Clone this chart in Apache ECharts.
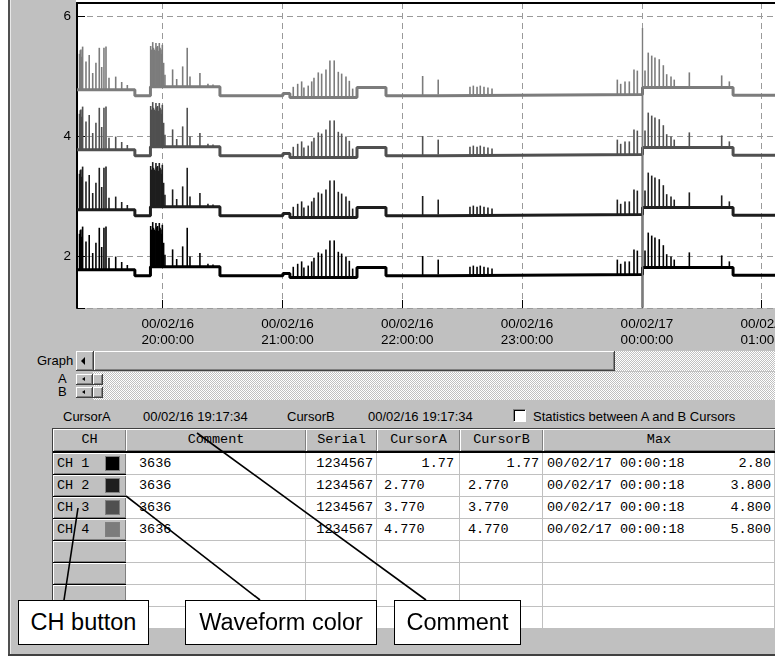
<!DOCTYPE html>
<html>
<head>
<meta charset="UTF-8">
<title>Waveform</title>
<style>
body{margin:0;width:775px;height:661px;overflow:hidden;background:#fff;position:relative;font-family:"Liberation Sans",Arial,sans-serif;font-size:13px;color:#000}
.abs{position:absolute}
.raised{background:#c0c0c0;box-sizing:border-box;box-shadow:inset -1px -1px #404040,inset 1px 1px #fff,inset -2px -2px #808080}
.dither{background-image:repeating-conic-gradient(#c0c0c0 0% 25%,#fff 0% 50%);background-size:2px 2px}
.lbl{position:absolute;line-height:16px;white-space:nowrap}
.mono{font-family:"Liberation Mono","Courier New",monospace;font-size:13.5px}
.hd{position:absolute;box-sizing:border-box;background:#c0c0c0;box-shadow:inset 1px 1px #fff,inset -1px -1px #808080;text-align:center;line-height:22px;white-space:nowrap}
.td{position:absolute;box-sizing:border-box;background:#fff;border-right:1px solid #c0c0c0;border-bottom:1px solid #c0c0c0;line-height:21px;white-space:nowrap;overflow:hidden}
.ch{position:absolute;box-sizing:border-box;background:#c0c0c0;box-shadow:inset 1px 1px #fff,inset -1px -1px #808080;border-bottom:1px solid #000;line-height:21px;white-space:nowrap}
.tri{position:absolute;width:0;height:0;border-style:solid;border-color:transparent #000 transparent transparent}
.callout{position:absolute;box-sizing:border-box;background:#fff;border:1px solid #000;font-family:Arial,"Liberation Sans",sans-serif;font-size:23.5px;line-height:43px;text-align:center;white-space:nowrap}
</style>
</head>
<body>
<!-- window frame and grey panel -->
<div class="abs" style="left:8px;top:0;width:2px;height:656px;background:#505050"></div>
<div class="abs" style="left:10px;top:0;width:1px;height:654px;background:#e8e8e8"></div>
<div class="abs" style="left:11px;top:0;width:764px;height:654px;background:#c0c0c0"></div>
<div class="abs" style="left:8px;top:654px;width:767px;height:2px;background:#404040"></div>
<div class="abs" style="left:76px;top:0;width:699px;height:3px;background:#fff"></div>

<div id="main" class="abs" style="left:0;top:0;width:775px;height:350px"></div>

<!-- scroll bars -->
<div class="lbl" style="left:37px;top:353px">Graph</div>
<div class="abs raised" style="left:76px;top:351px;width:18px;height:20px"></div>
<div class="tri" style="left:81px;top:357px;border-width:4px 4px 4px 0"></div>
<div class="abs raised" style="left:94px;top:351px;width:521px;height:20px"></div>
<div class="abs dither" style="left:615px;top:351px;width:160px;height:20px"></div>
<div class="abs dither" style="left:93px;top:372px;width:682px;height:28px"></div>
<div class="abs" style="left:93px;top:386px;width:682px;height:1px;background:#d8d8d8"></div>
<div class="lbl" style="left:58px;top:372px;line-height:14px">A</div>
<div class="lbl" style="left:58px;top:385px;line-height:14px">B</div>
<div class="abs raised" style="left:76px;top:374px;width:17px;height:11px"></div>
<div class="tri" style="left:82px;top:377px;border-width:2.5px 3px 2.5px 0"></div>
<div class="abs raised" style="left:93px;top:374px;width:10px;height:11px"></div>
<div class="abs raised" style="left:76px;top:387px;width:17px;height:11px"></div>
<div class="tri" style="left:82px;top:390px;border-width:2.5px 3px 2.5px 0"></div>
<div class="abs raised" style="left:93px;top:387px;width:10px;height:11px"></div>

<!-- cursor line -->
<div class="lbl" style="left:63px;top:409px">CursorA</div>
<div class="lbl" id="curA" style="left:143px;top:409px"></div>
<div class="lbl" style="left:287px;top:409px">CursorB</div>
<div class="lbl" id="curB" style="left:368px;top:409px"></div>
<div class="abs" style="left:513px;top:409px;width:13px;height:13px;background:#fff;box-sizing:border-box;border-top:1px solid #808080;border-left:1px solid #808080;border-bottom:1px solid #fff;border-right:1px solid #fff;box-shadow:inset 1px 1px #000"></div>
<div class="lbl" style="left:533px;top:409px">Statistics between A and B Cursors</div>

<!-- table -->
<div id="tbl"></div>

<!-- callouts -->
<svg class="abs" style="left:0;top:0" width="775" height="661">
  <g stroke="#000" stroke-width="1.6">
    <line x1="64" y1="600" x2="78" y2="508"/>
    <line x1="260" y1="600" x2="126" y2="496"/>
    <line x1="426" y1="600" x2="197" y2="433"/>
  </g>
</svg>
<div class="callout" style="left:18px;top:600px;width:131px;height:45px">CH button</div>
<div class="callout" style="left:185px;top:600px;width:192px;height:45px">Waveform color</div>
<div class="callout" style="left:394px;top:600px;width:127px;height:45px">Comment</div>

<script src="https://cdn.jsdelivr.net/npm/echarts@6.0.0/dist/echarts.min.js"></script>
<script type="text/javascript">
// table data
var chNames = ['CH 1', 'CH 2', 'CH 3', 'CH 4'];
var chColors = ['#000000', '#1e1e1e', '#505050', '#7c7c7c'];
var comments = ['3636', '3636', '3636', '3636'];
var serials = ['1234567', '1234567', '1234567', '1234567'];
var cursorA = ['1.77', '2.770', '3.770', '4.770'];
var cursorB = ['1.77', '2.770', '3.770', '4.770'];
var maxTimes = ['00/02/17 00:00:18', '00/02/17 00:00:18', '00/02/17 00:00:18', '00/02/17 00:00:18'];
var maxValues = ['2.80', '3.800', '4.800', '5.800'];
var cursorTime = '00/02/16 19:17:34';

// waveform (hours since 00/02/16 00:00, CH1 levels; other channels sit 1 V higher each)
var stepHours = [19.285, 19.768, 19.898, 20.478, 21.004, 21.062, 21.622, 21.864, 22.298, 24.005, 24.761, 25.111];
var stepLevels = [1.77, 1.67, 1.82, 1.67, 1.71, 1.64, 1.81, 1.67, 1.69, 1.81, 1.68, 1.68];
// spikes: [hour, height above baseline]
var spikes = [
	[19.306, 0.60], [19.312, 0.66], [19.318, 0.67], [19.325, 0.55], [19.332, 0.72], [19.360, 0.47],
	[19.387, 0.58], [19.416, 0.28], [19.443, 0.45], [19.471, 0.70], [19.491, 0.38], [19.510, 0.70],
	[19.527, 0.72], [19.552, 0.20], [19.608, 0.22], [19.658, 0.13], [19.705, 0.08],
	[19.900, 0.68], [19.908, 0.62], [19.917, 0.745], [19.923, 0.65], [19.930, 0.62], [19.937, 0.60],
	[19.944, 0.73], [19.951, 0.66], [19.958, 0.68], [19.965, 0.60], [19.972, 0.73], [19.978, 0.65],
	[19.986, 0.62], [19.991, 0.55], [19.997, 0.70], [20.008, 0.40], [20.019, 0.20], [20.083, 0.29],
	[20.117, 0.13], [20.167, 0.34], [20.205, 0.65], [20.228, 0.17], [20.311, 0.23], [20.378, 0.05],
	[20.420, 0.04],
	[21.090, 0.18], [21.127, 0.23], [21.160, 0.27], [21.179, 0.17], [21.215, 0.20], [21.244, 0.27],
	[21.263, 0.33], [21.299, 0.42], [21.327, 0.40], [21.363, 0.47], [21.396, 0.62], [21.432, 0.62],
	[21.466, 0.43], [21.494, 0.40], [21.530, 0.35], [21.558, 0.28], [21.586, 0.15],
	[22.170, 0.33], [22.300, 0.25], [22.565, 0.13], [22.593, 0.15], [22.624, 0.13], [22.651, 0.15],
	[22.682, 0.13], [22.715, 0.12], [22.749, 0.10],
	[23.795, 0.25], [23.823, 0.18], [23.859, 0.22], [23.895, 0.22], [23.934, 0.42], [23.962, 0.40],
	[24.026, 0.28], [24.053, 0.58], [24.082, 0.53], [24.109, 0.50], [24.145, 0.47], [24.179, 0.37],
	[24.207, 0.22], [24.243, 0.18], [24.270, 0.13], [24.396, 0.25], [24.666, 0.20], [24.730, 0.10]
];
var glitchHour = 24.005; // 00:00:18, each channel hits its max here
var glitchLow = 1.14;

var xTickHours = [20, 21, 22, 23, 24, 25];
var xTickLabels = ['00/02/16\n20:00:00', '00/02/16\n21:00:00', '00/02/16\n22:00:00', '00/02/16\n23:00:00', '00/02/17\n00:00:00', '00/02/17\n01:00:00'];
var yTicks = [2, 4, 6];

var xMin = 19.285, xMax = 25.111;
var yMin = 1.133, yMax = 6.217;

document.getElementById('curA').innerHTML = cursorTime;
document.getElementById('curB').innerHTML = cursorTime;

// build table (inside #tbl so the callouts stay on top)
var tbl = document.getElementById('tbl');
function cell(cls, x, y, w, h, html, extra) {
	var d = document.createElement('div');
	d.className = cls + ' mono';
	d.style.left = x + 'px';
	d.style.top = y + 'px';
	d.style.width = w + 'px';
	d.style.height = h + 'px';
	if (extra) d.style.cssText += extra;
	d.innerHTML = html || '';
	tbl.appendChild(d);
	return d;
}
var cols = [53, 126, 306, 377, 460, 543, 775];
var heads = ['CH', 'Comment', 'Serial', 'CursorA', 'CursorB', 'Max'];
for (var c = 0; c < heads.length; c++) {
	cell('hd', cols[c], 429, cols[c + 1] - cols[c], 22, heads[c]);
}
for (var r = 0; r < 8; r++) {
	var y = 453 + r * 22;
	var i = r < 4 ? r : -1;
	var chHtml = '';
	if (i >= 0) {
		chHtml = '<span style="position:absolute;left:4px">' + chNames[i] + '</span>' +
			'<span style="position:absolute;left:52px;top:3px;width:15px;height:15px;box-sizing:border-box;border:1px solid #808080;background:' + chColors[i] + '"></span>';
	}
	cell('ch', 53, y, 73, 22, chHtml);
	cell('td', 126, y, 180, 22, i >= 0 ? comments[i] : '', 'padding-left:13px');
	cell('td', 306, y, 71, 22, i >= 0 ? serials[i] : '', 'text-align:right;padding-right:3px');
	cell('td', 377, y, 83, 22, i >= 0 ? cursorA[i] : '', i === 0 ? 'text-align:right;padding-right:5px' : 'padding-left:7px');
	cell('td', 460, y, 83, 22, i >= 0 ? cursorB[i] : '', i === 0 ? 'text-align:right;padding-right:3px' : 'padding-left:8px');
	cell('td', 543, y, 232, 22, i >= 0 ? '<span style="position:absolute;left:4px">' + maxTimes[i] + '</span><span style="position:absolute;right:3px">' + maxValues[i] + '</span>' : '');
}
cell('abs', 53, 451, 722, 2, '', 'background:#000');
cell('abs', 53, 428, 722, 1, '', 'background:#404040');
cell('abs', 52, 428, 1, 201, '', 'background:#404040');

// chart
var offsets = cursorA.map(function (v) { return parseFloat(v) - parseFloat(cursorA[0]); });

function levelAt(t) {
	var lv = stepLevels[0];
	for (var k = 0; k < stepHours.length; k++) {
		if (stepHours[k] <= t) lv = stepLevels[k];
	}
	return lv;
}

var series = [];
chNames.forEach(function (name, i) {
	var off = offsets[i];
	series.push({
		name: name,
		type: 'line',
		step: 'end',
		showSymbol: false,
		silent: true,
		data: stepHours.map(function (t, k) { return [t, stepLevels[k] + off]; }),
		lineStyle: { color: chColors[i], width: 3 },
		z: 3
	});
	series.push({
		name: name + ' spikes',
		type: 'custom',
		silent: true,
		encode: { x: 0, y: 1 },
		data: spikes,
		renderItem: function (params, api) {
			var t = api.value(0), h = api.value(1);
			var b = levelAt(t) + off;
			var p0 = api.coord([t, b]);
			var p1 = api.coord([t, b + h]);
			return {
				type: 'line',
				shape: { x1: p0[0], y1: p0[1], x2: p1[0], y2: p1[1] },
				style: { stroke: chColors[i], lineWidth: 1.6 }
			};
		},
		z: 3
	});
});
series.push({
	name: 'max',
	type: 'custom',
	silent: true,
	encode: { x: 0, y: [1, 2] },
	data: maxValues.map(function (v) { return [glitchHour, glitchLow, parseFloat(v)]; }),
	renderItem: function (params, api) {
		var p0 = api.coord([api.value(0), api.value(1)]);
		var p1 = api.coord([api.value(0), api.value(2)]);
		return {
			type: 'line',
			shape: { x1: p0[0], y1: p0[1], x2: p1[0], y2: p1[1] },
			style: { stroke: chColors[params.dataIndex], lineWidth: 1.4 }
		};
	},
	z: 4
});

var myChart = echarts.init(document.getElementById('main'));
var option = {
	animation: false,
	grid: {
		left: 77, top: 3, right: 0, height: 305,
		outerBoundsMode: 'none', containLabel: false,
		show: true, backgroundColor: '#fff', borderWidth: 0
	},
	xAxis: [
		{
			type: 'value',
			min: xMin,
			max: xMax,
			splitNumber: 6,
			axisLine: { show: false },
			axisTick: { inside: true, length: 8, lineStyle: { color: '#000' } },
			splitLine: { lineStyle: { color: '#9a9a9a', type: [6, 4] } },
			axisLabel: {
				fontSize: 13.5,
				fontFamily: 'Liberation Sans',
				color: '#000',
				lineHeight: 16,
				margin: 8,
				padding: [0, 0, 0, 10],
				formatter: function (v) {
					var k = xTickHours.indexOf(Math.round(v * 1000) / 1000);
					return k >= 0 ? xTickLabels[k] : '';
				}
			}
		},
		{
			type: 'value',
			min: xMin,
			max: xMax,
			position: 'top',
			axisLine: { show: true, onZero: false, lineStyle: { color: '#000', width: 2 } },
			axisTick: { show: false },
			axisLabel: { show: false },
			splitLine: { show: false }
		}
	],
	yAxis: {
		type: 'value',
		min: yMin,
		max: yMax,
		splitNumber: 3,
		axisLine: { show: true, onZero: false, lineStyle: { color: '#000', width: 2 } },
		axisTick: { inside: true, length: 8, lineStyle: { color: '#000' } },
		splitLine: { lineStyle: { color: '#9a9a9a', type: [6, 4] } },
		axisLabel: {
			fontSize: 13.5,
			fontFamily: 'Liberation Sans',
			color: '#000',
			margin: 6,
			padding: [4, 0, 0, 0],
			formatter: function (v) {
				return yTicks.indexOf(Math.round(v * 1000) / 1000) >= 0 ? String(v) : '';
			}
		}
	},
	series: series
};
myChart.setOption(option);
</script>
</body>
</html>
